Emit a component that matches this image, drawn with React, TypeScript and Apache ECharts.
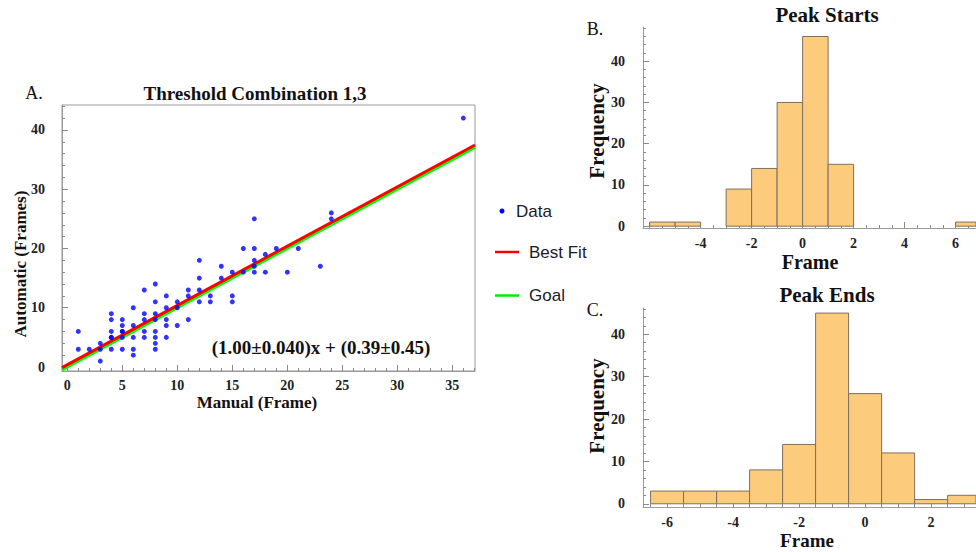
import React, { useEffect, useRef } from "react";
import * as echarts from "echarts";

// ---- Data: Panel A (scatter) ----
const manualFrames = [
  1, 1, 2, 3, 3, 3,
  4, 4, 4, 4, 4, 4,
  5, 5, 5, 5, 5, 5,
  6, 6, 6, 6, 6,
  7, 7, 7, 7, 7,
  8, 8, 8, 8, 8, 8, 8, 8,
  9, 9, 9, 9, 9,
  10, 10, 10,
  11, 11, 11,
  12, 12, 12, 12,
  13, 13,
  14, 14,
  15, 15, 15,
  16, 16,
  17, 17, 17, 17, 17,
  18, 18,
  19, 20, 21, 23, 24, 24, 36,
];
const automaticFrames = [
  6, 3, 3, 4, 3, 1,
  9, 8, 6, 5, 5, 3,
  8, 7, 6, 6, 5, 3,
  10, 7, 5, 3, 2,
  13, 9, 8, 6, 5,
  14, 11, 9, 8, 6, 5, 4, 3,
  12, 10, 8, 7, 5,
  11, 10, 7,
  13, 12, 8,
  18, 15, 13, 11,
  12, 11,
  17, 15,
  16, 12, 11,
  20, 16,
  25, 20, 18, 17, 16,
  19, 16,
  20, 16, 20, 17, 26, 25, 42,
];
const fitSlope = 1.0;
const fitIntercept = 0.39;
const goalSlope = 1;
const goalIntercept = 0;
const scatterXTicks = [0, 5, 10, 15, 20, 25, 30, 35];
const scatterYTicks = [0, 10, 20, 30, 40];

// ---- Data: Panel B (Peak Starts histogram, bins [left, left+1]) ----
const startBinLefts = [-6, -5, -4, -3, -2, -1, 0, 1, 2, 3, 4, 5, 6];
const startCounts = [1, 1, 0, 9, 14, 30, 46, 15, 0, 0, 0, 0, 1];
const startBinWidth = 1;
const startsXTicks = [-4, -2, 0, 2, 4, 6];

// ---- Data: Panel C (Peak Ends histogram, bins centred on integers) ----
const endBinCenters = [-6, -5, -4, -3, -2, -1, 0, 1, 2, 3];
const endCounts = [3, 3, 3, 8, 14, 45, 26, 12, 1, 2];
const endBinWidth = 1;
const endsXTicks = [-6, -4, -2, 0, 2];
const freqTicks = [0, 10, 20, 30, 40];

// ---- layout / styling ----
const SERIF = "'Liberation Serif', 'Times New Roman', serif";
const SANS = "'Liberation Sans', Arial, sans-serif";
const AXIS_GRAY = "#9a9a9a";
const TICK_GRAY = "#8a8a8a";
const BAR_FILL = "#FDCB7C";
const BAR_STROKE = "#7e705f";

const A_X = [-0.48, 37.06];
const A_Y = [-0.67, 44.2];
const B_X = [-6.26, 6.8];
const B_Y = [-0.44, 48.3];
const C_X = [-6.73, 3.36];
const C_Y = [-0.76, 46.2];

function range(a: number, b: number, step: number): number[] {
  const out: number[] = [];
  for (let v = a; v <= b + 1e-9; v += step) out.push(Math.round(v * 1000) / 1000);
  return out;
}

const labelStyle = {
  fontFamily: SERIF,
  fontWeight: "bold" as const,
  fontSize: 14,
  color: "#222",
};

function majorAxis(
  gridIndex: number,
  pos: "bottom" | "left",
  ext: number[],
  ticks: number[],
  labels: number[],
  margin: number,
  showLine: boolean
) {
  return {
    type: "value",
    gridIndex,
    position: pos,
    min: ext[0],
    max: ext[1],
    axisLine: { show: showLine, onZero: false, lineStyle: { color: AXIS_GRAY, width: 1 } },
    axisTick: {
      show: true,
      inside: true,
      length: 6,
      customValues: ticks,
      lineStyle: { color: TICK_GRAY, width: 1 },
    },
    axisLabel: { show: true, customValues: labels, margin, ...labelStyle },
    splitLine: { show: false },
  };
}

function minorAxis(gridIndex: number, pos: "bottom" | "left", ext: number[], ticks: number[]) {
  return {
    type: "value",
    gridIndex,
    position: pos,
    min: ext[0],
    max: ext[1],
    axisLine: { show: false, onZero: false },
    axisTick: {
      show: true,
      inside: true,
      length: 3,
      customValues: ticks,
      lineStyle: { color: TICK_GRAY, width: 1 },
    },
    axisLabel: { show: false },
    splitLine: { show: false },
  };
}

function histRender(params: any, api: any) {
  const p0 = api.coord([api.value(0), api.value(2)]);
  const p1 = api.coord([api.value(1), 0]);
  const cs = params.coordSys;
  const shape = echarts.graphic.clipRectByRect(
    { x: p0[0], y: p0[1], width: p1[0] - p0[0], height: p1[1] - p0[1] },
    { x: cs.x, y: cs.y, width: cs.width, height: cs.height }
  );
  if (!shape) return null;
  return {
    type: "rect",
    shape,
    style: { fill: BAR_FILL, stroke: BAR_STROKE, lineWidth: 1 },
  };
}

function text(
  str: string,
  x: number,
  y: number,
  opts: { size?: number; bold?: boolean; family?: string; rotate?: number; align?: string; color?: string } = {}
) {
  return {
    type: "text",
    x,
    y,
    rotation: opts.rotate || 0,
    style: {
      text: str,
      fontFamily: opts.family || SERIF,
      fontSize: opts.size || 16,
      fontWeight: opts.bold ? "bold" : "normal",
      fill: opts.color || "#111",
      textAlign: opts.align || "center",
      textVerticalAlign: "middle",
      verticalAlign: "middle",
    },
  };
}

export default function App() {
  const ref = useRef<HTMLDivElement>(null);

  useEffect(() => {
    if (!ref.current) return;
    const chart = echarts.init(ref.current, undefined, { renderer: "svg" });

    const scatterData = manualFrames.map((x, i) => [x, automaticFrames[i]]);
    const fitData = A_X.map((x) => [x, fitSlope * x + fitIntercept]);
    const goalData = A_X.map((x) => [x, goalSlope * x + goalIntercept]);
    const startData = startBinLefts
      .map((l, i) => [l, l + startBinWidth, startCounts[i]])
      .filter((d) => d[2] > 0);
    const endData = endBinCenters
      .map((c, i) => [c - endBinWidth / 2, c + endBinWidth / 2, endCounts[i]])
      .filter((d) => d[2] > 0);

    const option: any = {
      animation: false,
      backgroundColor: "#ffffff",
      grid: [
        {
          left: 62,
          top: 105,
          width: 413,
          height: 266,
          show: true,
          borderColor: AXIS_GRAY,
          borderWidth: 1,
          backgroundColor: "transparent",
        },
        { left: 643, top: 27, width: 333, height: 201 },
        { left: 643, top: 308, width: 333, height: 199 },
      ],
      xAxis: [
        majorAxis(0, "bottom", A_X, scatterXTicks, scatterXTicks, 7, true),
        minorAxis(0, "bottom", A_X, range(0, 37, 1)),
        majorAxis(1, "bottom", B_X, range(-6, 6, 2), startsXTicks, 8, true),
        minorAxis(1, "bottom", B_X, range(-6, 6.5, 0.5)),
        majorAxis(2, "bottom", C_X, endsXTicks, endsXTicks, 8, true),
        minorAxis(2, "bottom", C_X, range(-6.5, 3, 0.5)),
      ],
      yAxis: [
        majorAxis(0, "left", A_Y, scatterYTicks, scatterYTicks, 17, true),
        minorAxis(0, "left", A_Y, range(0, 44, 2)),
        majorAxis(1, "left", B_Y, freqTicks, freqTicks, 18, true),
        minorAxis(1, "left", B_Y, range(0, 48, 2)),
        majorAxis(2, "left", C_Y, freqTicks, freqTicks, 18, true),
        minorAxis(2, "left", C_Y, range(0, 46, 2)),
      ],
      series: [
        {
          name: "Goal",
          type: "line",
          xAxisIndex: 0,
          yAxisIndex: 0,
          data: goalData,
          symbol: "none",
          clip: true,
          lineStyle: { color: "#00ff00", width: 3 },
          z: 3,
        },
        {
          name: "Best Fit",
          type: "line",
          xAxisIndex: 0,
          yAxisIndex: 0,
          data: fitData,
          symbol: "none",
          clip: true,
          lineStyle: { color: "#ff0000", width: 3 },
          z: 4,
        },
        {
          name: "Data",
          type: "scatter",
          xAxisIndex: 0,
          yAxisIndex: 0,
          data: scatterData,
          symbol: "circle",
          symbolSize: 5,
          itemStyle: { color: "#0000ff" },
          z: 5,
        },
        {
          name: "Peak Starts",
          type: "custom",
          xAxisIndex: 2,
          yAxisIndex: 2,
          data: startData,
          encode: { x: [0, 1], y: 2 },
          renderItem: histRender,
          clip: true,
          z: 1,
        },
        {
          name: "Peak Ends",
          type: "custom",
          xAxisIndex: 4,
          yAxisIndex: 4,
          data: endData,
          encode: { x: [0, 1], y: 2 },
          renderItem: histRender,
          clip: true,
          z: 1,
        },
      ],
      graphic: [
        // Panel A texts
        text("A.", 34, 93, { size: 18 }),
        text("Threshold Combination 1,3", 255, 93, { size: 19, bold: true }),
        text("(1.00±0.040)x + (0.39±0.45)", 321, 347, { size: 19, bold: true }),
        text("Manual (Frame)", 257, 402, { size: 17, bold: true }),
        text("Automatic (Frames)", 20, 264, { size: 17, bold: true, rotate: Math.PI / 2 }),
        // Legend
        { type: "circle", shape: { cx: 502, cy: 211, r: 2.5 }, style: { fill: "#0000ff" } },
        text("Data", 516, 211, { size: 17, family: SANS, align: "left", color: "#1a1a2a" }),
        {
          type: "line",
          shape: { x1: 495, y1: 252, x2: 519, y2: 252 },
          style: { stroke: "#ff0000", lineWidth: 2.5 },
        },
        text("Best Fit", 529, 252, { size: 17, family: SANS, align: "left", color: "#1a1a2a" }),
        {
          type: "line",
          shape: { x1: 495, y1: 295.5, x2: 519, y2: 295.5 },
          style: { stroke: "#00ee00", lineWidth: 2.5 },
        },
        text("Goal", 529, 295, { size: 17, family: SANS, align: "left", color: "#1a1a2a" }),
        // Panel B texts
        text("B.", 595, 29, { size: 18 }),
        text("Peak Starts", 827, 15, { size: 21, bold: true }),
        text("Frequency", 597, 131, { size: 21, bold: true, rotate: Math.PI / 2 }),
        text("Frame", 810, 262, { size: 20, bold: true }),
        // Panel C texts
        text("C.", 595, 310, { size: 18 }),
        text("Peak Ends", 827, 295, { size: 21, bold: true }),
        text("Frequency", 597, 406, { size: 21, bold: true, rotate: Math.PI / 2 }),
        text("Frame", 807, 540, { size: 19, bold: true }),
      ],
    };

    chart.setOption(option);
    return () => chart.dispose();
  }, []);

  return (
    <div
      ref={ref}
      style={{ position: "fixed", left: 0, top: 0, width: 976, height: 552, background: "#fff" }}
    />
  );
}
